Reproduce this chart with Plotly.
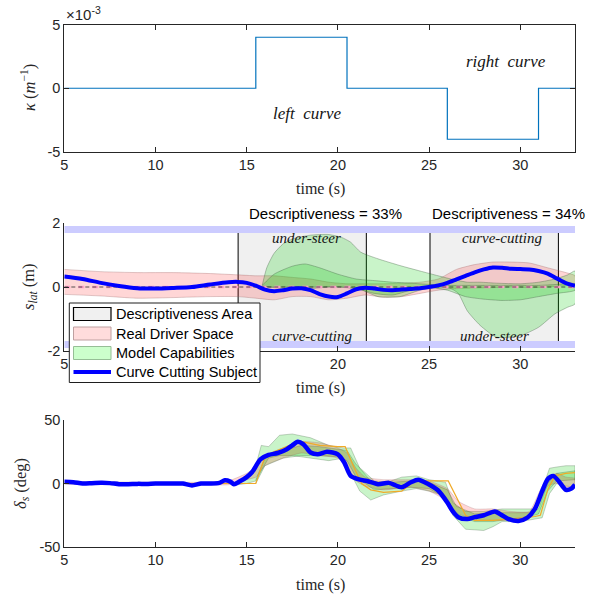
import plotly.graph_objects as go

# ---------------- data ----------------
# top panel: road curvature
t_kappa = [5, 15.5, 20.5, 26.0, 31.0, 33]
kappa = [0, 4e-3, 0, -4e-3, 0, 0]

# middle panel: lateral position
desc_areas = [(14.53, 21.56), (25.05, 32.09)]
desc_values = ["Descriptiveness = 33%", "Descriptiveness = 34%"]
road_edges = [1.8, -1.8]

t_subj_mid = [5, 6, 7, 8, 9, 10, 11, 12, 13, 14, 14.5, 15, 15.5, 16, 16.5, 17, 17.5, 18, 18.5, 19,
              19.5, 20, 20.5, 21, 21.5, 22, 22.5, 23, 23.5, 24, 24.5, 25, 25.5, 26, 26.5, 27, 27.5, 28,
              28.5, 29, 29.5, 30, 30.5, 31, 31.5, 32, 32.5, 33]
s_lat_subj = [0.33, 0.25, 0.13, 0.03, -0.04, -0.05, -0.03, 0.0, 0.08, 0.15, 0.16, 0.13, 0.04, -0.08,
              -0.13, -0.1, -0.05, -0.04, -0.1, -0.22, -0.3, -0.31, -0.2, -0.07, -0.02, -0.05, -0.09,
              -0.1, -0.08, -0.06, -0.04, 0.0, 0.05, 0.13, 0.24, 0.35, 0.46, 0.55, 0.61, 0.6, 0.57,
              0.56, 0.55, 0.5, 0.42, 0.27, 0.12, 0.04]

t_rds_mid = [5, 7, 9, 11, 13, 14.5, 15.5, 16.5, 17.5, 18.5, 19.5, 20.5, 21.5, 22.5, 23.5, 24.5, 25.5,
             26.5, 27.5, 28.5, 29.5, 30.5, 31.5, 32.5, 33]
rds_mid_upper = [0.55, 0.48, 0.45, 0.45, 0.42, 0.38, 0.35, 0.35, 0.3, 0.25, 0.15, 0.1, 0.1, 0.1, 0.12,
                 0.15, 0.25, 0.55, 0.7, 0.78, 0.78, 0.75, 0.6, 0.45, 0.35]
rds_mid_lower = [-0.23, -0.28, -0.35, -0.33, -0.3, -0.3, -0.35, -0.4, -0.3, -0.3, -0.4, -0.35, -0.25,
                 -0.32, -0.3, -0.2, -0.1, -0.05, -0.03, -0.02, 0.0, -0.02, 0.0, 0.05, 0.08]

t_mc_mid = [15.85, 16.1, 16.5, 17, 17.5, 18.5, 19.5, 20.2, 20.7, 21.25, 22.2, 23.4, 24.5, 25.5, 26.2,
            26.6, 27.1, 27.8, 28.7, 30, 31, 31.9, 32.6, 33]
mc_mid_upper = [0.05, 0.6, 1.05, 1.35, 1.5, 1.62, 1.64, 1.55, 1.4, 1.09, 0.88, 0.67, 0.5, 0.35, 0.25,
                0.2, 0.15, 0.15, 0.12, 0.1, 0.15, 0.25, 0.38, 0.5]
mc_mid_lower = [0.03, 0.0, -0.02, -0.05, -0.05, -0.05, 0.0, 0.0, -0.03, -0.08, -0.3, -0.3, -0.1, 0.0,
                -0.05, -0.2, -0.75, -1.2, -1.57, -1.52, -1.26, -0.84, -0.63, -0.53]

t_mc2_mid = [15.85, 16.5, 17.5, 18.2, 19, 20, 21, 22, 23, 24, 25, 26, 27, 28, 29, 30, 31, 32, 33]
mc2_mid_upper = [0.05, 0.4, 0.65, 0.72, 0.6, 0.4, 0.25, 0.2, 0.15, 0.12, 0.08, 0.05, 0.05, 0.05, 0.05,
                 0.05, 0.05, 0.08, 0.1]
mc2_mid_lower = [0.03, 0.0, 0.0, 0.0, 0.0, 0.0, -0.05, -0.2, -0.25, -0.1, -0.02, -0.1, -0.3, -0.38,
                 -0.42, -0.4, -0.3, -0.2, -0.1]

# bottom panel: steering angle
t_subj_bot = [5, 5.5, 6, 6.5, 7, 7.5, 8, 8.5, 9, 9.5, 10, 10.5, 11, 11.5, 12, 12.5, 13, 13.5, 13.8, 14.1,
              14.3, 14.6, 15, 15.3, 15.75, 16.2, 16.7, 17.2, 17.5, 17.8, 18.1, 18.5, 18.9, 19.4, 20,
              20.35, 20.7, 21.2, 21.6, 22.2, 22.8, 23.5, 24, 24.4, 24.9, 25.5, 26, 26.3, 26.6, 27.1,
              27.5, 28, 28.6, 29, 29.3, 29.9, 30.4, 30.8, 31.2, 31.5, 31.8, 32.1, 32.5, 32.8, 33]
delta_subj = [1.3, 1.0, 0.0, 0.2, 0.5, 0.3, -0.5, -0.5, -0.3, -0.3, 0, 0, 0, 0, -1.5, 0, 0, 0.5, 2.5, 1.5,
              -0.5, 1.5, 5, 9, 19, 22.5, 24, 27, 30, 32.8, 31, 24.4, 23, 25, 23, 16.5, 6, 3, 2, -0.5,
              0.5, -3, 1, 3, 0, -5.5, -15, -22, -26.5, -28, -26.5, -25, -22, -25, -27.6, -29.5, -26.8,
              -20, -6, 3.4, 6, 2, -5, -4, -1]

t_model_bot = [5, 15.5, 16.0, 16.5, 17, 17.5, 18, 19, 20, 20.4, 20.9, 21.3, 21.8, 22.5, 23.5, 24.2, 25,
               26.05, 27, 27.5, 28.5, 29.5, 30.2, 30.8, 31.1, 31.5, 31.9, 32.5, 33]
delta_model = [0, 0, 21, 25, 28, 31, 33, 30, 29, 29, 12, 0, -5, -7, -6, 2, 2, 2, -25, -29, -29, -28, -27,
               -26, -25, -5, 6, 8, 8.5]

t_mc_bot = [14.5, 15, 15.5, 15.8, 16.2, 16.8, 17.5, 18.5, 19.5, 20.3, 20.7, 21.2, 21.8, 22.5, 23.5, 24.3,
            25, 25.9, 26.3, 27, 28, 28.5, 29, 30, 30.8, 31.2, 31.6, 32, 32.5, 33]
mc_bot_upper = [2, 5, 14, 30, 29, 38, 39, 36, 30, 28, 28, 12, 2, 0, 5, 6, 3, 1, -15, -22, -22, -21, -20,
                -20, -20, -5, 12, 13, 14, 14]
mc_bot_lower = [-1, 0, 2, 10, 20, 22, 22, 20, 18, 20, 8, -6, -13, -9, -6, -4, -6, -10, -25, -36, -37,
                -34, -30, -30, -28, -27, -8, 0, -2, -3]

t_mc2_bot = [15.5, 16, 17, 18, 19, 20, 20.5, 21, 22, 23, 24, 25, 26, 26.5, 27.5, 28.5, 29.5, 30.5, 31,
             31.5, 32, 33]
mc2_bot_upper = [3, 20, 26, 30, 29, 27, 26, 15, 2, 1, 2, 1, -5, -18, -24, -23, -23, -23, -20, 0, 8, 10]
mc2_bot_lower = [0, 14, 20, 22, 22, 21, 18, 5, -5, -4, -3, -4, -12, -25, -30, -30, -28, -26, -24, -6, 2, 3]

t_rds_bot = [5, 13, 14, 15, 15.5, 16, 17, 18, 19, 20, 20.5, 21, 21.5, 22.5, 24, 25, 26, 26.6, 27.5, 28.5,
             29.5, 30.5, 31, 31.5, 32, 32.5, 33]
rds_bot_upper = [1.5, 1, 2, 8, 13, 22, 28, 33, 32, 28, 24, 12, 5, 3, 3, 2, -4, -14, -20, -20, -22, -22,
                 -8, 5, 8, 5, 4]
rds_bot_lower = [-0.5, -1, -1, 3, 5, 14, 20, 24, 22, 20, 13, 2, -2, -5, -3, -6, -14, -24, -28, -29, -29,
                 -27, -17, -2, 0, -3, -2]

x_ticks = [5, 10, 15, 20, 25, 30]
x_ticktext = ['5', '10', '15', '20', '25', '30']
x_ticktext_mid = ['5', '', '', '20', '25', '30']   # 10 and 15 sit under the legend box
legend_labels = ["Descriptiveness Area", "Real Driver Space", "Model Capabilities", "Curve Cutting Subject"]

# ---------------- layout helpers ----------------
W, H = 597, 599
AX = 'rgb(38,38,38)'
SANS = 'Liberation Sans, Arial, sans-serif'
SERIF = 'Liberation Serif, Times New Roman, serif'
X0, X1 = 64.3, 575.0
PANELS = {'top': (24.5, 152.0), 'mid': (223.0, 351.0), 'bot': (420.0, 547.0)}


def ydom(key):
    a, b = PANELS[key]
    return [1 - b / H, 1 - a / H]


def band(t, up, lo):
    return list(t) + list(t)[::-1], list(up) + list(lo)[::-1]


GREEN_FILL = 'rgba(0,205,0,0.21)'
GREEN_LINE = 'rgba(60,90,60,0.35)'
PINK_FILL = 'rgba(255,0,0,0.16)'
PINK_LINE = 'rgba(150,90,90,0.3)'
BLUE = 'rgb(0,0,255)'

fig = go.Figure()

# ---- top panel ----
fig.add_trace(go.Scatter(x=t_kappa, y=kappa, mode='lines',
                         line=dict(color='rgb(0,114,189)', width=1.2, shape='hv'),
                         showlegend=False, xaxis='x', yaxis='y', hoverinfo='skip'))

# ---- middle panel ----
rx, ry = [], []
for a, b in desc_areas:
    rx += [a, b, b, a, a, None]
    ry += [road_edges[0], road_edges[0], road_edges[1], road_edges[1], road_edges[0], None]
fig.add_trace(go.Scatter(x=rx, y=ry, mode='lines', fill='toself', fillcolor='rgb(240,240,240)',
                         line=dict(color='black', width=1), name=legend_labels[0],
                         xaxis='x2', yaxis='y2', hoverinfo='skip'))
for e in road_edges:
    fig.add_trace(go.Scatter(x=[5, 33], y=[e, e], mode='lines',
                             line=dict(color='rgb(204,204,255)', width=7),
                             xaxis='x2', yaxis='y2', hoverinfo='skip'))

bx, by = band(t_rds_mid, rds_mid_upper, rds_mid_lower)
fig.add_trace(go.Scatter(x=bx, y=by, mode='lines', fill='toself', fillcolor=PINK_FILL,
                         line=dict(color=PINK_LINE, width=1, shape='spline', smoothing=0.6),
                         name=legend_labels[1], xaxis='x2', yaxis='y2', hoverinfo='skip'))
bx, by = band(t_mc_mid, mc_mid_upper, mc_mid_lower)
fig.add_trace(go.Scatter(x=bx, y=by, mode='lines', fill='toself', fillcolor=GREEN_FILL,
                         line=dict(color=GREEN_LINE, width=1, shape='spline', smoothing=0.6),
                         name=legend_labels[2], xaxis='x2', yaxis='y2', hoverinfo='skip'))
bx, by = band(t_mc2_mid, mc2_mid_upper, mc2_mid_lower)
fig.add_trace(go.Scatter(x=bx, y=by, mode='lines', fill='toself', fillcolor=GREEN_FILL,
                         line=dict(color=GREEN_LINE, width=1, shape='spline', smoothing=0.6),
                         xaxis='x2', yaxis='y2', hoverinfo='skip'))
fig.add_trace(go.Scatter(x=[5, 33], y=[0, 0], mode='lines',
                         line=dict(color='rgb(255,160,200)', width=2.5, dash='6px,8px'),
                         xaxis='x2', yaxis='y2', hoverinfo='skip'))
fig.add_trace(go.Scatter(x=[5, 33], y=[0, 0], mode='lines',
                         line=dict(color='rgb(40,40,40)', width=0.8, dash='4px,3px'),
                         xaxis='x2', yaxis='y2', hoverinfo='skip'))
fig.add_trace(go.Scatter(x=t_subj_mid, y=s_lat_subj, mode='lines',
                         line=dict(color=BLUE, width=4, shape='spline', smoothing=0.8),
                         name=legend_labels[3], xaxis='x2', yaxis='y2', hoverinfo='skip'))

# ---- bottom panel ----
for t, up, lo in [(t_mc_bot, mc_bot_upper, mc_bot_lower), (t_mc2_bot, mc2_bot_upper, mc2_bot_lower)]:
    bx, by = band(t, up, lo)
    fig.add_trace(go.Scatter(x=bx, y=by, mode='lines', fill='toself', fillcolor=GREEN_FILL,
                             line=dict(color=GREEN_LINE, width=0.8),
                             xaxis='x3', yaxis='y3', hoverinfo='skip'))
bx, by = band(t_rds_bot, rds_bot_upper, rds_bot_lower)
fig.add_trace(go.Scatter(x=bx, y=by, mode='lines', fill='toself', fillcolor=PINK_FILL,
                         line=dict(color=PINK_LINE, width=0.8, shape='spline', smoothing=0.5),
                         xaxis='x3', yaxis='y3', hoverinfo='skip'))
fig.add_trace(go.Scatter(x=t_model_bot, y=delta_model, mode='lines',
                         line=dict(color='rgb(240,170,40)', width=1.2),
                         xaxis='x3', yaxis='y3', hoverinfo='skip'))
fig.add_trace(go.Scatter(x=t_subj_bot, y=delta_subj, mode='lines',
                         line=dict(color=BLUE, width=4.5, shape='spline', smoothing=0.7),
                         xaxis='x3', yaxis='y3', hoverinfo='skip'))

# ---------------- axes ----------------
tickfont = dict(family=SANS, size=14.5, color=AX)


def xaxis(anchor, mirror, text):
    return dict(domain=[X0 / W, X1 / W], range=[5, 33], tickvals=x_ticks, ticktext=text,
                ticks='inside', ticklen=5, tickcolor=AX, showline=True, linecolor=AX, linewidth=1,
                mirror=mirror, showgrid=False, zeroline=False, tickfont=tickfont, anchor=anchor,
                automargin=False)


def yaxis(key, anchor, rng, vals, text, mirror):
    return dict(domain=ydom(key), range=rng, tickvals=vals, ticktext=text, ticks='inside', ticklen=5,
                tickcolor=AX, showline=True, linecolor=AX, linewidth=1, mirror=mirror,
                showgrid=False, zeroline=False, tickfont=tickfont, anchor=anchor, automargin=False)


ann = []
shapes = []


def pann(text, px, py, size, family, angle=0, xanchor='center', color=AX):
    ann.append(dict(text=text, x=px / W, y=1 - py / H, xref='paper', yref='paper', showarrow=False,
                    xanchor=xanchor, yanchor='middle', textangle=angle,
                    font=dict(family=family, size=size, color=color)))


def dann(text, x, y, xr, yr, size, family, xanchor='center', color='rgb(20,20,20)'):
    ann.append(dict(text=text, x=x, y=y, xref=xr, yref=yr, showarrow=False, xanchor=xanchor,
                    yanchor='middle', font=dict(family=family, size=size, color=color)))


def prect(x0, y0, x1, y1, fill, line, lw=1):
    shapes.append(dict(type='rect', xref='paper', yref='paper', x0=x0 / W, x1=x1 / W,
                       y0=1 - y1 / H, y1=1 - y0 / H, fillcolor=fill,
                       line=dict(color=line, width=lw), layer='above'))


# exponent label
pann('×10<sup>-3</sup>', 64, 13, 15, SANS, xanchor='left')
# axis titles
pann('<i>κ</i> (<i>m</i><sup>−1</sup>)', 29, 88, 16.5, SERIF, angle=-90)
pann('<i>s</i><sub><i>lat</i></sub> (m)', 29, 287, 16.5, SERIF, angle=-90)
pann('<i>δ</i><sub><i>s</i></sub> (deg)', 21, 484, 16.5, SERIF, angle=-90)
for py in (189, 388, 585):
    pann('time (s)', 320, py, 16, SERIF)
# top panel labels
dann('<i>left  curve</i>', 18.3, -2.0e-3, 'x', 'y', 17, SERIF)
dann('<i>right  curve</i>', 29.2, 2.06e-3, 'x', 'y', 17, SERIF)
# descriptiveness labels (above the axes)
pann(desc_values[0], 247, 213, 15, SANS, xanchor='left', color='black')
pann(desc_values[1], 429.5, 213, 15, SANS, xanchor='left', color='black')
dann('<i>under-steer</i>', 18.3, 1.54, 'x2', 'y2', 15, SERIF)
dann('<i>curve-cutting</i>', 18.6, -1.52, 'x2', 'y2', 15, SERIF)
dann('<i>curve-cutting</i>', 29.0, 1.54, 'x2', 'y2', 15, SERIF)
dann('<i>under-steer</i>', 28.6, -1.52, 'x2', 'y2', 15, SERIF)

# legend box (drawn by hand to match the boxed patches)
prect(69.3, 303, 260, 382.5, 'white', 'rgb(30,30,30)', 1)
prect(73.5, 307.5, 111, 320.5, 'rgb(240,240,240)', 'black', 1.2)
prect(73.5, 327, 111, 340, 'rgb(255,220,220)', 'rgb(190,160,160)', 1)
prect(73.5, 346.5, 111, 359.5, 'rgb(204,255,204)', 'rgb(150,190,150)', 1)
shapes.append(dict(type='line', xref='paper', yref='paper', x0=73.5 / W, x1=111 / W,
                   y0=1 - 372 / H, y1=1 - 372 / H, line=dict(color=BLUE, width=4), layer='above'))
for lbl, py in zip(legend_labels, (314, 333.5, 353, 372)):
    pann(lbl, 113.5, py, 14.5, SANS, xanchor='left', color='black')

fig.update_layout(
    width=W, height=H, margin=dict(l=0, r=0, t=0, b=0),
    paper_bgcolor='white', plot_bgcolor='white',
    xaxis=xaxis('y', 'ticks', x_ticktext),
    yaxis=yaxis('top', 'x', [-5e-3, 5e-3], [-5e-3, 0, 5e-3], ['-5', '0', '5'], 'ticks'),
    xaxis2=xaxis('y2', False, x_ticktext_mid),
    yaxis2=yaxis('mid', 'x2', [-2, 2], [-2, 0, 2], ['-2', '0', '2'], False),
    xaxis3=xaxis('y3', False, x_ticktext),
    yaxis3=yaxis('bot', 'x3', [-50, 50], [-50, 0, 50], ['-50', '0', '50'], False),
    annotations=ann,
    shapes=shapes,
    showlegend=False,
)

fig.write_html('out.html')
